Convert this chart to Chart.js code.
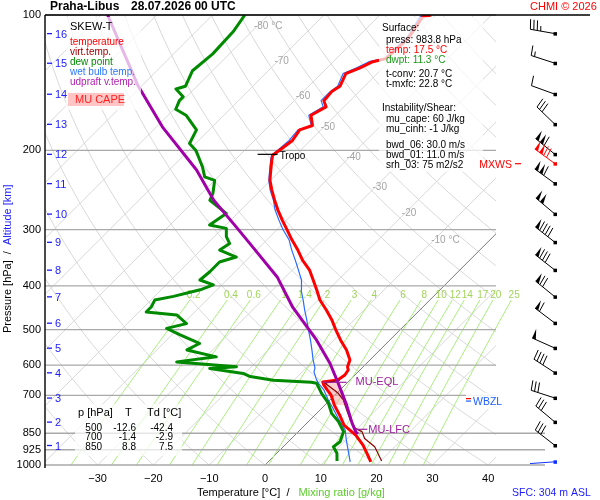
<!DOCTYPE html>
<html>
<head>
<meta charset="utf-8">
<script src="https://cdn.jsdelivr.net/npm/chart.js@4.4.1/dist/chart.umd.min.js"></script>
<style>
  html, body { margin: 0; padding: 0; background: #fff; }
  #wrap { width: 600px; height: 500px; }
</style>
</head>
<body>
<div id="wrap"><canvas id="skewt" width="600" height="500"></canvas></div>
<script>
// sounding: pressure [hPa] and temperature [°C]
const tempP = [984, 950, 903, 858, 815, 774, 736, 699, 681, 664, 654, 647, 631, 615, 605, 584, 555, 528, 501, 476, 453, 430, 409, 388, 369, 351, 333, 316, 300, 286, 271, 258, 245, 233, 221, 210, 205, 200, 190, 180, 176, 167, 160, 155, 148, 144, 135, 131, 127, 125, 116, 112, 101, 100];
const tempT = [18.4, 16.6, 14.0, 10.9, 7.0, 4.4, 1.7, -0.7, -2.3, -3.8, -4.5, -2.2, -1.8, -2.1, -2.8, -3.6, -6.0, -8.8, -11.5, -14.0, -16.7, -19.7, -22.0, -24.5, -26.9, -29.9, -32.6, -35.5, -38.2, -40.7, -43.4, -45.7, -48.0, -50.1, -51.8, -53.4, -54.1, -53.8, -53.2, -53.8, -52.3, -54.4, -53.2, -54.7, -54.9, -54.4, -55.6, -54.1, -52.9, -51.1, -50.8, -50.8, -52.0, -50.8];

const virtP = [980, 911, 873, 843, 829, 794, 755, 717, 693, 670, 658, 647];
const virtT = [20.2, 16.4, 13.1, 11.4, 9.6, 7.2, 4.8, 2.4, 0.3, -2.4, -3.9, -1.8];

const dewP = [980, 942, 911, 888, 843, 801, 768, 729, 693, 658, 655, 648, 636, 626, 610, 605, 590, 575, 555, 537, 514, 497, 485, 464, 457, 445, 430, 422, 408, 398, 388, 372, 354, 345, 333, 322, 311, 298, 293, 276, 258, 249, 233, 229, 218, 200, 193, 180, 167, 162, 155, 152, 146, 144, 133, 122, 109, 100];
const dewT = [12.2, 10.8, 9.0, 9.3, 8.1, 5.4, 2.7, 0.3, -2.7, -5.4, -6.5, -13.7, -18.5, -20.3, -27.2, -22.7, -34.3, -28.1, -34.6, -33.5, -38.5, -42.1, -39.4, -42.7, -48.7, -48.7, -49.3, -46.6, -43.0, -41.5, -44.8, -44.5, -44.5, -42.4, -46.6, -46.0, -47.8, -49.3, -52.9, -52.0, -57.3, -58.0, -60.0, -62.4, -64.5, -68.7, -71.1, -72.3, -76.8, -79.7, -80.6, -80.6, -83.3, -82.1, -83.6, -83.0, -83.3, -84.2];

const wetP = [984, 926, 880, 836, 794, 755, 717, 681, 661, 647, 621, 609, 584, 555, 528, 501, 476, 453, 430, 409, 388, 369, 351, 333, 316, 300, 286, 271, 258, 245, 233, 221, 210, 205, 200, 190, 180, 176, 167, 160, 155, 148, 144, 135, 131, 127, 125, 116, 112, 101, 100];
const wetT = [14.7, 12.2, 10.1, 8.1, 5.2, 2.5, -0.3, -2.9, -4.8, -6.0, -7.9, -8.4, -10.2, -12.2, -14.2, -16.4, -18.5, -20.6, -22.7, -24.8, -26.6, -28.9, -31.2, -33.7, -36.0, -38.9, -41.3, -43.9, -45.9, -48.3, -50.3, -52.0, -53.6, -54.3, -54.1, -53.8, -54.1, -52.5, -54.8, -53.7, -55.2, -55.2, -54.8, -56.1, -54.7, -53.6, -51.4, -51.2, -51.1, -52.5, -52.0];

const parcelP = [853, 845, 807, 736, 657, 594, 528, 446, 382, 328, 293, 258, 221, 178, 143, 100];
const parcelT = [11.1, 10.4, 8.1, 3.9, -1.6, -6.6, -13.1, -23.3, -31.5, -41.2, -48.4, -56.6, -65.1, -78.7, -90.9, -108.8];

// altitude marks and winds at every km
const altKm = [1, 2, 3, 4, 5, 6, 7, 8, 9, 10, 11, 12, 13, 14, 15, 16];
const altP = [905, 803, 710, 624, 550, 484, 423, 369, 320, 277, 237, 204, 175, 150, 128, 110];
const windDir = [308, 310, 288, 303, 294, 307, 309, 308, 308, 310, 306, 309, 314, 290, 288, 280];
const windKt = [30, 30, 30, 40, 50, 60, 70, 80, 90, 100, 110, 110, 30, 10, 15, 35];

// axes
const pressTicks = [100, 200, 300, 400, 500, 600, 700, 850, 925, 1000];
const tempTicks = [-30, -20, -10, 0, 10, 20, 30, 40];
const mixRatios = [0.2, 0.4, 0.6, 1, 1.4, 2, 3, 4, 6, 8, 10, 12, 14, 17, 20, 25];

// levels and indices
const sfcPress = 983.8, sfcTemp = 17.5, sfcDwpt = 11.3, tConv = 20.7, tMxfc = 22.8;
const muCape = 60, muCinh = -1, bwd06 = 30.0, bwd01 = 11.0, srh03 = 75;
const tableP = [500, 700, 850];
const tableT = [-12.6, -1.4, 8.8];
const tableTd = [-42.4, -2.9, 7.5];
const tropoP = 204, eqlP = 655, lfcP = 833, zeroP = 712, wbzP = 721;
const capeBase = 740, capeTop = 654;
const mxwsP = 214, mxwsDir = 306, mxwsKt = 120;
const sfcWindDir = 266, sfcWindKt = 2;
const sfcHeight = 304;

const FONT = '"Liberation Sans", Arial, Helvetica, sans-serif';
const SKEW = 35;
const skewX = (t, p) => t + SKEW * Math.log(1000 / p);
const pts = (P, T) => P.map((p, i) => ({ x: skewX(T[i], p), y: p }));

// CAPE area: parcel going up, environment coming back down
const capeUp = parcelP.map((p, i) => [p, parcelT[i]]).filter(([p]) => p <= capeBase && p >= capeTop);
const capeDown = tempP.map((p, i) => [p, tempT[i]]).filter(([p]) => p <= capeBase && p >= capeTop).reverse();
const capePts = capeUp.concat(capeDown).map(([p, t]) => ({ x: skewX(t, p), y: p }));

const minus = v => (v < 0 ? '\u2212' + Math.abs(v) : String(v));

function segText(ctx, parts, x, y) {
  for (const [t, c] of parts) {
    ctx.fillStyle = c;
    ctx.fillText(t, x, y);
    x += ctx.measureText(t).width;
  }
}

function dewFromMix(w, p) {
  const e = w * p / (622 + w);
  const l = Math.log(e / 6.112);
  return 243.5 * l / (17.67 - l);
}

function drawBarb(ctx, x0, y0, dir, spd, color) {
  const r = dir * Math.PI / 180;
  const ux = Math.sin(r), uy = -Math.cos(r);
  const vx = -uy, vy = ux;
  const L = 25, F = 10;
  ctx.strokeStyle = color;
  ctx.fillStyle = color;
  ctx.lineWidth = 1;
  ctx.beginPath();
  ctx.moveTo(x0, y0);
  ctx.lineTo(x0 + ux * L, y0 + uy * L);
  ctx.stroke();
  ctx.fillRect(x0 - 1.5, y0 - 1.5, 3.5, 3.5);
  let s = Math.round(spd / 5) * 5, pos = L;
  while (s >= 50) {
    ctx.beginPath();
    ctx.moveTo(x0 + ux * pos, y0 + uy * pos);
    ctx.lineTo(x0 + ux * pos + vx * F, y0 + uy * pos + vy * F);
    ctx.lineTo(x0 + ux * (pos - 4), y0 + uy * (pos - 4));
    ctx.closePath();
    ctx.fill();
    pos -= 5.5;
    s -= 50;
  }
  ctx.beginPath();
  while (s >= 10) {
    ctx.moveTo(x0 + ux * pos, y0 + uy * pos);
    ctx.lineTo(x0 + ux * (pos + 1.5) + vx * F, y0 + uy * (pos + 1.5) + vy * F);
    pos -= 3.5;
    s -= 10;
  }
  if (s >= 5) {
    ctx.moveTo(x0 + ux * pos, y0 + uy * pos);
    ctx.lineTo(x0 + ux * (pos + 0.8) + vx * F / 2, y0 + uy * (pos + 0.8) + vy * F / 2);
  }
  ctx.stroke();
}

const skewGrid = {
  id: 'skewGrid',
  beforeDatasetsDraw(chart) {
    const { ctx, chartArea: a, scales: { x, y } } = chart;
    const px = (t, p) => x.getPixelForValue(skewX(t, p));
    const py = p => y.getPixelForValue(p);
    ctx.save();
    ctx.beginPath();
    ctx.rect(a.left, a.top, a.right - a.left, a.bottom - a.top);
    ctx.clip();
    ctx.strokeStyle = '#d8d8d8';
    ctx.lineWidth = 1;
    for (let t = -130; t <= 40; t += 10) {
      ctx.beginPath();
      ctx.moveTo(px(t, 1000), py(1000));
      ctx.lineTo(px(t, 100), py(100));
      ctx.stroke();
    }
    for (let th = -40; th <= 190; th += 10) {
      ctx.beginPath();
      for (let p = 1000; p >= 100; p -= 10) {
        const t = (th + 273.15) * Math.pow(p / 1000, 0.2857) - 273.15;
        if (p === 1000) ctx.moveTo(px(t, p), py(p)); else ctx.lineTo(px(t, p), py(p));
      }
      ctx.stroke();
    }
    // 0 °C isotherm
    ctx.strokeStyle = '#6a6a6a';
    ctx.lineWidth = 0.8;
    ctx.beginPath();
    ctx.moveTo(px(0, 1000), py(1000));
    ctx.lineTo(px(0, 100), py(100));
    ctx.stroke();
    ctx.restore();

    // mixing ratio lines
    ctx.save();
    ctx.beginPath();
    ctx.rect(a.left, a.top, a.right - a.left + 34, a.bottom - a.top);
    ctx.clip();
    ctx.strokeStyle = '#a6ee7a';
    ctx.lineWidth = 1;
    for (const w of mixRatios) {
      ctx.beginPath();
      for (let p = 1000; p >= 430; p -= 10) {
        const X = px(dewFromMix(w, p), p);
        if (p === 1000) ctx.moveTo(X, py(p)); else ctx.lineTo(X, py(p));
      }
      ctx.stroke();
    }
    ctx.fillStyle = '#a2d45a';
    ctx.font = '10px ' + FONT;
    ctx.textAlign = 'center';
    ctx.textBaseline = 'middle';
    for (const w of mixRatios) ctx.fillText(String(w), px(dewFromMix(w, 419), 419), py(419));
    ctx.restore();

    // isotherm labels
    ctx.save();
    ctx.fillStyle = '#a4a4a4';
    ctx.font = '10px ' + FONT;
    ctx.textBaseline = 'middle';
    const isoLab = [[-80, 106, ' °C'], [-70, 127, ''], [-60, 151.5, ''], [-50, 177.5, ''], [-40, 207, ''], [-30, 241, ''], [-20, 276, ''], [-10, 316, ' °C']];
    for (const [t, p, u] of isoLab) ctx.fillText(t + u, px(t, p) - 3, py(p));
    // isobars
    ctx.strokeStyle = '#a9a9a9';
    ctx.lineWidth = 1.3;
    for (const p of pressTicks) {
      ctx.beginPath();
      ctx.moveTo(a.left, py(p));
      ctx.lineTo(p >= 850 ? a.right + 49 : a.right, py(p));
      ctx.stroke();
    }
    ctx.restore();
  }
};

const overlay = {
  id: 'overlay',
  afterDatasetsDraw(chart) {
    const { ctx, chartArea: a, scales: { x, y } } = chart;
    const px = (t, p) => x.getPixelForValue(skewX(t, p));
    const py = p => y.getPixelForValue(p);
    ctx.save();
    ctx.font = '10px ' + FONT;
    ctx.textBaseline = 'middle';
    ctx.textAlign = 'left';

    // legend box
    ctx.fillStyle = 'rgba(255,255,255,0.72)';
    ctx.fillRect(66, 17, 75, 93);
    const legend = [['SKEW-T', '#000'], ['temperature', '#ff0000'], ['virt.temp.', '#a00000'], ['dew point', '#008a00'], ['wet bulb temp.', '#2a78ff'], ['udpraft v.temp.', '#b020b0']];
    ctx.font = '11px ' + FONT;
    ctx.fillStyle = '#000';
    ctx.fillText(legend[0][0], 70, 27);
    ctx.font = '10px ' + FONT;
    legend.slice(1).forEach(([t, c], i) => { ctx.fillStyle = c; ctx.fillText(t, 70, 42.5 + i * 10); });
    ctx.fillStyle = '#ffc4c4';
    ctx.fillRect(68, 93, 56, 13);
    ctx.fillStyle = '#ff2020';
    ctx.font = '11px ' + FONT;
    ctx.fillText('MU CAPE', 75, 100);

    // surface and instability box
    ctx.fillStyle = 'rgba(255,255,255,0.72)';
    ctx.fillRect(379, 17, 104, 155);
    ctx.font = '10px ' + FONT;
    const info = [
      ['Surface:', '#000', 382, 28], ['press: ' + sfcPress.toFixed(1) + ' hPa', '#000', 386, 40],
      ['temp: ' + sfcTemp.toFixed(1) + ' °C', '#ff0000', 386, 50], ['dwpt: ' + sfcDwpt.toFixed(1) + ' °C', '#1a9a1a', 386, 60],
      ['t-conv: ' + tConv.toFixed(1) + ' °C', '#000', 386, 74], ['t-mxfc: ' + tMxfc.toFixed(1) + ' °C', '#000', 386, 84],
      ['Instability/Shear:', '#000', 382, 108], ['mu_cape: ' + muCape + ' J/kg', '#000', 386, 119],
      ['mu_cinh: ' + muCinh + ' J/kg', '#000', 386, 129], ['bwd_06: ' + bwd06.toFixed(1) + ' m/s', '#000', 386, 145],
      ['bwd_01: ' + bwd01.toFixed(1) + ' m/s', '#000', 386, 155], ['srh_03: ' + srh03 + ' m2/s2', '#000', 386, 165]
    ];
    for (const [t, c, tx, ty] of info) { ctx.fillStyle = c; ctx.fillText(t, tx, ty); }

    // standard level table
    ctx.fillStyle = 'rgba(255,255,255,0.72)';
    ctx.fillRect(75, 404, 107, 52);
    ctx.fillStyle = '#000';
    ctx.font = '11px ' + FONT;
    ctx.fillText('p [hPa]', 78, 413);
    ctx.fillText('T', 125, 413);
    ctx.fillText('Td [°C]', 147, 413);
    ctx.font = '10px ' + FONT;
    ctx.textAlign = 'right';
    tableP.forEach((p, i) => {
      const ty = 428 + i * 9.7;
      ctx.fillText(String(p), 102, ty);
      ctx.fillText(tableT[i].toFixed(1), 136, ty);
      ctx.fillText(tableTd[i].toFixed(1), 173, ty);
    });
    ctx.textAlign = 'left';

    // tropopause
    const xt = px(tempT[tempP.indexOf(205)], 205);
    ctx.strokeStyle = '#000';
    ctx.lineWidth = 1.2;
    ctx.beginPath();
    ctx.moveTo(xt - 15, py(tropoP));
    ctx.lineTo(xt + 5, py(tropoP));
    ctx.stroke();
    ctx.fillStyle = '#000';
    ctx.fillText('Tropo', xt + 7, py(tropoP) + 2);

    // MU-EQL / MU-LFC
    ctx.strokeStyle = '#a020a0';
    ctx.fillStyle = '#a020a0';
    ctx.font = '11px ' + FONT;
    const xe = px(-4.5, eqlP);
    ctx.beginPath(); ctx.moveTo(xe, py(eqlP)); ctx.lineTo(xe + 24, py(eqlP)); ctx.stroke();
    ctx.fillText('MU-EQL', xe + 33, py(eqlP));
    const xl = px(9.8, lfcP);
    ctx.beginPath(); ctx.moveTo(xl, py(lfcP)); ctx.lineTo(xl + 12, py(lfcP)); ctx.stroke();
    ctx.fillText('MU-LFC', xl + 13, py(lfcP) + 1);

    // WBZL
    ctx.fillStyle = 'rgba(255,255,255,0.85)';
    ctx.fillRect(466, 393, 42, 16);
    ctx.lineWidth = 1.2;
    ctx.strokeStyle = '#ff0000';
    ctx.beginPath(); ctx.moveTo(466, py(zeroP)); ctx.lineTo(471, py(zeroP)); ctx.stroke();
    ctx.strokeStyle = '#2060ff';
    ctx.beginPath(); ctx.moveTo(466, py(wbzP)); ctx.lineTo(471, py(wbzP)); ctx.stroke();
    ctx.fillStyle = '#2060ff';
    ctx.font = '10.5px ' + FONT;
    ctx.fillText('WBZL', 473, py(wbzP) + 1);

    // MXWS
    ctx.fillStyle = '#ff0000';
    ctx.strokeStyle = '#ff0000';
    ctx.textAlign = 'right';
    ctx.fillText('MXWS', 512, py(mxwsP) + 1);
    ctx.beginPath(); ctx.moveTo(515, py(mxwsP)); ctx.lineTo(521, py(mxwsP)); ctx.stroke();
    ctx.textAlign = 'left';

    // altitude marks
    ctx.strokeStyle = '#1c1cff';
    ctx.fillStyle = '#1c1cff';
    ctx.lineWidth = 1.3;
    ctx.font = '11px ' + FONT;
    altKm.forEach((k, i) => {
      const ty = py(altP[i]);
      ctx.beginPath(); ctx.moveTo(a.left + 2, ty); ctx.lineTo(a.left + 7, ty); ctx.stroke();
      ctx.fillText(String(k), a.left + 10, ty + 1);
    });

    // wind barbs
    const bx = a.right + 59;
    altP.forEach((p, i) => drawBarb(ctx, bx, py(p), windDir[i], windKt[i], '#000'));
    drawBarb(ctx, bx, py(mxwsP), mxwsDir, mxwsKt, '#ff0000');
    drawBarb(ctx, bx, py(sfcPress), sfcWindDir, sfcWindKt, '#1030ff');
    ctx.restore();
  },
  afterDraw(chart) {
    const { ctx, chartArea: a } = chart;
    ctx.save();
    ctx.strokeStyle = '#000';
    ctx.lineWidth = 1.4;
    ctx.beginPath();
    ctx.moveTo(a.left, a.top);
    ctx.lineTo(590, a.top);
    ctx.moveTo(a.left, a.top);
    ctx.lineTo(a.left, a.bottom + 3);
    ctx.stroke();

    ctx.textBaseline = 'middle';
    ctx.fillStyle = '#000';
    ctx.font = 'bold 12px ' + FONT;
    ctx.fillText('Praha-Libus', 50, 7);
    ctx.fillText('28.07.2026 00 UTC', 131, 7);
    ctx.fillStyle = '#ff0000';
    ctx.font = '11px ' + FONT;
    ctx.fillText('CHMI © 2026', 530, 7);

    ctx.font = '11px ' + FONT;
    segText(ctx, [['Temperature [°C]', '#000'], ['  /   ', '#000'], ['Mixing ratio [g/kg]', '#5ccc2a']], 197, 493);
    ctx.fillStyle = '#1c1cff';
    ctx.font = '10.5px ' + FONT;
    ctx.fillText('SFC: ' + sfcHeight + ' m ASL', 512, 493);

    ctx.translate(8, 333);
    ctx.rotate(-Math.PI / 2);
    ctx.font = '11px ' + FONT;
    segText(ctx, [['Pressure [hPa]', '#000'], ['  /  ', '#000'], ['Altitude [km]', '#1c1cff']], 0, 0);
    ctx.restore();
  }
};

Chart.defaults.font.family = FONT;

new Chart(document.getElementById('skewt'), {
  type: 'scatter',
  data: {
    datasets: [
      { label: 'MU CAPE', data: capePts, showLine: true, fill: 'shape', backgroundColor: 'rgba(255,150,150,0.45)', borderColor: 'rgba(0,0,0,0)', borderWidth: 0, order: 6 },
      { label: 'wet bulb temp.', data: pts(wetP, wetT), showLine: true, borderColor: '#2a6cff', borderWidth: 1.2, order: 5 },
      { label: 'temperature', data: pts(tempP, tempT), showLine: true, borderColor: '#ff0000', borderWidth: 3, order: 4 },
      { label: 'virt.temp.', data: pts(virtP, virtT), showLine: true, borderColor: '#8c0000', borderWidth: 1.2, order: 3 },
      { label: 'dew point', data: pts(dewP, dewT), showLine: true, borderColor: '#008a00', borderWidth: 3, order: 2 },
      { label: 'udpraft v.temp.', data: pts(parcelP, parcelT), showLine: true, borderColor: '#a000a8', borderWidth: 3, order: 1 }
    ]
  },
  options: {
    responsive: false,
    animation: false,
    devicePixelRatio: 1,
    layout: { padding: { top: 15, right: 104, left: 0, bottom: 0 } },
    elements: { point: { radius: 0 }, line: { tension: 0, borderJoinStyle: 'round' } },
    plugins: { legend: { display: false }, tooltip: { enabled: false } },
    scales: {
      x: {
        type: 'linear', min: -39.43, max: 41.4,
        afterBuildTicks: s => { s.ticks = tempTicks.map(v => ({ value: v })); },
        afterFit: s => { s.height = 35; },
        grid: { display: false, drawTicks: false },
        border: { display: false },
        ticks: { autoSkip: false, maxRotation: 0, padding: 7, color: '#000', font: { size: 11 }, callback: v => minus(v) }
      },
      y: {
        type: 'logarithmic', min: 100, max: 1000, reverse: true,
        afterBuildTicks: s => { s.ticks = pressTicks.map(v => ({ value: v })); },
        afterFit: s => { s.width = 45; },
        grid: { display: false, drawTicks: false },
        border: { display: false },
        ticks: { autoSkip: false, padding: 4, color: '#000', font: { size: 11 }, callback: v => String(v) }
      }
    }
  },
  plugins: [skewGrid, overlay]
});
</script>
</body>
</html>
